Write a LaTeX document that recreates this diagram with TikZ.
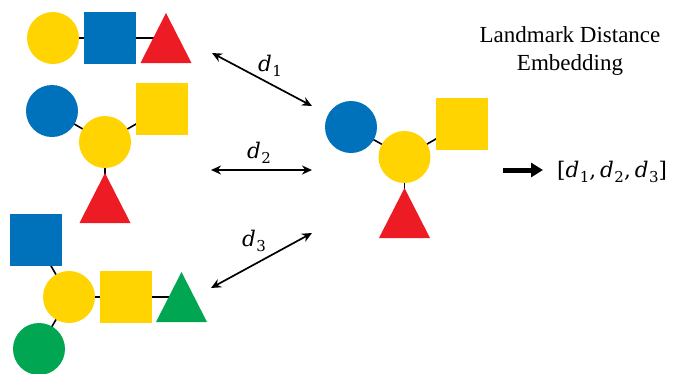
\documentclass[tikz,border=0pt]{standalone}
\usepackage{fontspec}
\setmainfont{Liberation Serif}
\newfontfamily\mfont{DejaVu Serif}
\usetikzlibrary{arrows.meta}
\definecolor{gyel}{RGB}{255,212,0}
\definecolor{gblu}{RGB}{0,114,188}
\definecolor{gred}{RGB}{237,28,36}
\definecolor{ggrn}{RGB}{0,166,81}
\newcommand{\dsub}[1]{{\itshape d}\kern0.5pt\raisebox{-0.22em}{\fontsize{15}{15}\selectfont #1}}
\tikzset{
  circ/.style={circle,fill=#1,draw=none,minimum size=52pt,inner sep=0pt},
  sqr/.style={rectangle,fill=#1,draw=none,minimum size=52pt,inner sep=0pt},
  bond/.style={line width=1.6pt,black},
  dist/.style={line width=1.7pt,{Stealth[length=10pt,width=9pt]}-{Stealth[length=10pt,width=9pt]}},
  lbl/.style={font=\mfont\fontsize{21.5}{24}\selectfont},
  bigarrow/.style={line width=5pt,-{Triangle[length=12pt,width=14pt]}}
}
\newcommand{\tri}[4]{% name, apex x, apex y, color
  \fill[#4] (#2-25.5,#3+50) -- (#2,#3) -- (#2+25.5,#3+50) -- cycle;
}
\begin{document}
\begin{tikzpicture}[x=1pt,y=-1pt]
\useasboundingbox (0,0) rectangle (680,373);
% ---- glycan 1
\coordinate (g1c) at (53,38);
\coordinate (g1s) at (110,38);
\coordinate (g1t) at (166,38);
\draw[bond] (g1c) -- (g1s) -- (g1t);
\node[circ=gyel] (n1c) at (g1c) {};
\node[sqr=gblu] (n1s) at (g1s) {};
\tri{g1t}{166}{13}{gred}
% ---- glycan 2
\coordinate (g2b) at (52,111);
\coordinate (g2y) at (105,142);
\coordinate (g2s) at (162,109);
\coordinate (g2t) at (105,205);
\draw[bond] (g2b) -- (g2y) -- (g2s);
\draw[bond] (g2y) -- (g2t);
\node[circ=gblu] (n2b) at (g2b) {};
\node[circ=gyel] (n2y) at (g2y) {};
\node[sqr=gyel] (n2s) at (g2s) {};
\tri{g2t}{105}{173}{gred}
% ---- glycan 3
\coordinate (g3b) at (36,240);
\coordinate (g3y) at (69,297);
\coordinate (g3s) at (126,297);
\coordinate (g3t) at (181.5,297);
\coordinate (g3g) at (39,349);
\draw[bond] (g3b) -- (g3y) -- (g3s) -- (g3t);
\draw[bond] (g3y) -- (g3g);
\node[sqr=gblu] (n3b) at (g3b) {};
\node[circ=gyel] (n3y) at (g3y) {};
\node[sqr=gyel] (n3s) at (g3s) {};
\node[circ=ggrn] (n3g) at (g3g) {};
\tri{g3t}{181.5}{272}{ggrn}
% ---- landmark glycan
\coordinate (lb) at (351,127);
\coordinate (ly) at (404.5,157);
\coordinate (ls) at (462,124);
\coordinate (lt) at (404.5,220);
\draw[bond] (lb) -- (ly) -- (ls);
\draw[bond] (ly) -- (lt);
\node[circ=gblu] (nlb) at (lb) {};
\node[circ=gyel] (nly) at (ly) {};
\node[sqr=gyel] (nls) at (ls) {};
\tri{lt}{404.5}{188}{gred}
% ---- distance arrows
\coordinate (a1s) at (212,53);  \coordinate (a1e) at (312,106);
\coordinate (a2s) at (211,170); \coordinate (a2e) at (312,170);
\coordinate (a3s) at (211,288); \coordinate (a3e) at (312,233);
\draw[dist] (a1s) -- (a1e);
\draw[dist] (a2s) -- (a2e);
\draw[dist] (a3s) -- (a3e);
\node[lbl] (l1) at (270,66) {\dsub{1}};
\node[lbl] (l2) at (259,153) {\dsub{2}};
\node[lbl] (l3) at (254,241) {\dsub{3}};
% ---- embedding
\node[font=\fontsize{23}{28}\selectfont,align=center] (title) at (570,51) {Landmark Distance\\Embedding};
\coordinate (ba) at (503,170); \coordinate (bb) at (543,170);
\draw[bigarrow] (ba) -- (bb);
\node[lbl,anchor=west,inner sep=1pt] (vec) at (556,172) {[\dsub{1},\kern4pt\dsub{2},\kern4pt\dsub{3}]};
\end{tikzpicture}
\end{document}
